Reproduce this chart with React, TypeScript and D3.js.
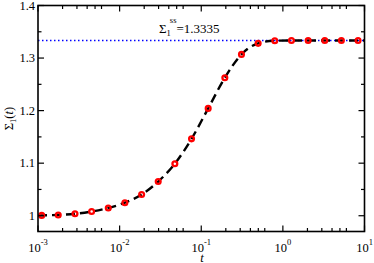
import React from "react";
import * as d3 from "d3";

const pointT = [0.00111, 0.00177, 0.00284, 0.00454, 0.00726, 0.0116, 0.0186, 0.0297, 0.0475, 0.076, 0.1216, 0.1945, 0.311, 0.498, 0.796, 1.274, 2.04, 3.26, 5.21, 8.34];
const pointV = [1.0006, 1.0015, 1.0038, 1.008, 1.0147, 1.0248, 1.0404, 1.0651, 1.099, 1.1463, 1.2042, 1.2625, 1.307, 1.328, 1.333, 1.3335, 1.3335, 1.3335, 1.3335, 1.3335];
const fitT = [0.001, 0.00111, 0.00177, 0.00284, 0.00454, 0.00726, 0.0116, 0.0186, 0.0297, 0.0475, 0.076, 0.1216, 0.1945, 0.311, 0.498, 0.796, 1.274, 2.04, 3.26, 5.21, 8.34, 10];
const fitV = [1.0003, 1.0006, 1.0015, 1.0038, 1.008, 1.0147, 1.0248, 1.0404, 1.0651, 1.099, 1.1463, 1.2042, 1.2625, 1.307, 1.328, 1.333, 1.3335, 1.3335, 1.3335, 1.3335, 1.3335, 1.3335];
const steadyState = 1.3335;
const yTicks = [1.0, 1.1, 1.2, 1.3, 1.4];
const yTickLabels = ["1", "1.1", "1.2", "1.3", "1.4"];
const yMinor = [1.05, 1.15, 1.25, 1.35];
const xDecades = [-3, -2, -1, 0, 1];
const xMinorMult = [2, 3, 4, 5, 6];

const W = 374, H = 263;
const L = 38, R = 364.5, T = 5.5, B = 231.5;
const FONT = "'Liberation Serif', 'Times New Roman', serif";

export default function App() {
  const x = d3.scaleLog().domain([1e-3, 10]).range([L, R]);
  const y = d3.scaleLinear().domain([0.97, 1.4]).range([B, T]);
  const line = d3.line<number>().x((_, i) => x(fitT[i])).y((v) => y(v)).curve(d3.curveMonotoneX);
  const minorX: number[] = [];
  xDecades.slice(0, -1).forEach((d) => xMinorMult.forEach((m) => minorX.push(m * Math.pow(10, d))));
  const major = 6, minor = 3.5;
  return (
    <svg width={W} height={H} style={{ position: "absolute", left: 0, top: 0, background: "#fff" }} fontFamily={FONT}>
      <rect x={0} y={0} width={W} height={H} fill="#fff" />
      <line x1={L} x2={R} y1={y(steadyState)} y2={y(steadyState)} stroke="#0000ff" strokeWidth={1.6} strokeDasharray="1.5,2.5" />
      <path d={line(fitV) || ""} fill="none" stroke="#000" strokeWidth={2.4} strokeDasharray="9,5" />
      {pointV.map((v, i) => (
        <circle key={i} cx={x(pointT[i])} cy={y(v)} r={2.4} fill="none" stroke="#ff0000" strokeWidth={2.3} />
      ))}
      <rect x={L} y={T} width={R - L} height={B - T} fill="none" stroke="#000" strokeWidth={1.6} />
      {xDecades.map((d) => {
        const px = x(Math.pow(10, d));
        return (
          <g key={"xd" + d}>
            <line x1={px} x2={px} y1={B} y2={B - major} stroke="#000" strokeWidth={1.2} />
            <line x1={px} x2={px} y1={T} y2={T + major} stroke="#000" strokeWidth={1.2} />
            <text x={px} y={251.5} fontSize={12.5} textAnchor="middle">
              <tspan>10</tspan>
              <tspan fontSize={8.5} dy={-7}>{String(d)}</tspan>
            </text>
          </g>
        );
      })}
      {minorX.map((t, i) => {
        const px = x(t);
        return (
          <g key={"xm" + i}>
            <line x1={px} x2={px} y1={B} y2={B - minor} stroke="#000" strokeWidth={1.2} />
            <line x1={px} x2={px} y1={T} y2={T + minor} stroke="#000" strokeWidth={1.2} />
          </g>
        );
      })}
      {yTicks.map((v, i) => {
        const py = y(v);
        return (
          <g key={"yt" + i}>
            <line x1={L} x2={L + major} y1={py} y2={py} stroke="#000" strokeWidth={1.2} />
            <line x1={R} x2={R - major} y1={py} y2={py} stroke="#000" strokeWidth={1.2} />
            <text x={L - 3} y={py + 4.3} fontSize={12.5} textAnchor="end">{yTickLabels[i]}</text>
          </g>
        );
      })}
      {yMinor.map((v, i) => {
        const py = y(v);
        return (
          <g key={"ym" + i}>
            <line x1={L} x2={L + minor} y1={py} y2={py} stroke="#000" strokeWidth={1.2} />
            <line x1={R} x2={R - minor} y1={py} y2={py} stroke="#000" strokeWidth={1.2} />
          </g>
        );
      })}
      <text x={159} y={32.5} fontSize={13}>
        <tspan>Σ</tspan>
        <tspan fontSize={8.5} dy={3.5}>1</tspan>
        <tspan fontSize={8.5} dx={-1} dy={-13}>ss</tspan>
        <tspan dy={9.5}>=1.3335</tspan>
      </text>
      <text x={202} y={261.5} fontSize={12.5} fontStyle="italic" textAnchor="middle">t</text>
      <text transform={`translate(13,${(T + B) / 2}) rotate(-90)`} fontSize={12.5} textAnchor="middle">
        <tspan>Σ</tspan>
        <tspan fontSize={8.5} dy={3}>1</tspan>
        <tspan dy={-3}>(</tspan>
        <tspan fontStyle="italic">t</tspan>
        <tspan>)</tspan>
      </text>
    </svg>
  );
}
